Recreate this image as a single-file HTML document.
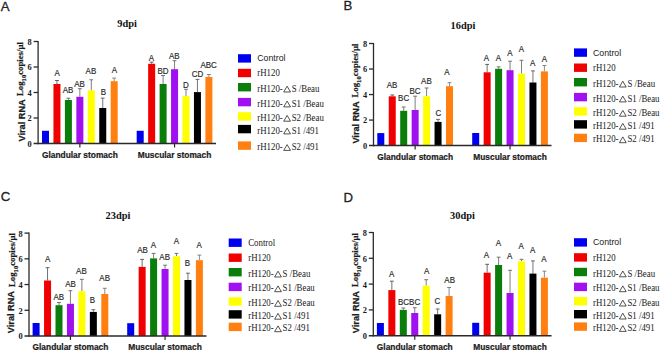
<!DOCTYPE html>
<html><head><meta charset="utf-8"><style>
html,body{margin:0;padding:0;background:#fff;width:665px;height:353px;overflow:hidden;}
svg{display:block;}

</style></head><body>
<svg width="665" height="353" viewBox="0 0 665 353">
<rect x="0" y="0" width="665" height="353" fill="#ffffff"/>
<rect x="42.00" y="130.80" width="7.00" height="12.70" fill="#0000f0"/>
<line x1="56.95" y1="80.50" x2="56.95" y2="84.00" stroke="#606060" stroke-width="0.9"/>
<line x1="55.05" y1="80.50" x2="58.85" y2="80.50" stroke="#606060" stroke-width="1.0"/>
<rect x="53.45" y="84.00" width="7.00" height="59.50" fill="#f00000"/>
<line x1="68.40" y1="98.20" x2="68.40" y2="100.00" stroke="#707070" stroke-width="0.9"/>
<line x1="66.50" y1="98.20" x2="70.30" y2="98.20" stroke="#707070" stroke-width="1.0"/>
<rect x="64.90" y="100.00" width="7.00" height="43.50" fill="#0a7d0a"/>
<line x1="79.85" y1="88.70" x2="79.85" y2="96.80" stroke="#707070" stroke-width="0.9"/>
<line x1="77.95" y1="88.70" x2="81.75" y2="88.70" stroke="#707070" stroke-width="1.0"/>
<rect x="76.35" y="96.80" width="7.00" height="46.70" fill="#a010f0"/>
<line x1="91.30" y1="79.80" x2="91.30" y2="90.40" stroke="#707070" stroke-width="0.9"/>
<line x1="89.40" y1="79.80" x2="93.20" y2="79.80" stroke="#707070" stroke-width="1.0"/>
<rect x="87.80" y="90.40" width="7.00" height="53.10" fill="#ffff00"/>
<line x1="102.75" y1="98.10" x2="102.75" y2="108.00" stroke="#666" stroke-width="0.9"/>
<line x1="100.85" y1="98.10" x2="104.65" y2="98.10" stroke="#666" stroke-width="1.0"/>
<rect x="99.25" y="108.00" width="7.00" height="35.50" fill="#000000"/>
<line x1="114.20" y1="78.10" x2="114.20" y2="81.20" stroke="#808080" stroke-width="0.9"/>
<line x1="112.30" y1="78.10" x2="116.10" y2="78.10" stroke="#808080" stroke-width="1.0"/>
<rect x="110.70" y="81.20" width="7.00" height="62.30" fill="#ff8010"/>
<rect x="136.70" y="130.80" width="7.00" height="12.70" fill="#0000f0"/>
<line x1="151.65" y1="62.10" x2="151.65" y2="63.80" stroke="#606060" stroke-width="0.9"/>
<line x1="149.75" y1="62.10" x2="153.55" y2="62.10" stroke="#606060" stroke-width="1.0"/>
<rect x="148.15" y="63.80" width="7.00" height="79.70" fill="#f00000"/>
<line x1="163.10" y1="75.50" x2="163.10" y2="84.00" stroke="#707070" stroke-width="0.9"/>
<line x1="161.20" y1="75.50" x2="165.00" y2="75.50" stroke="#707070" stroke-width="1.0"/>
<rect x="159.60" y="84.00" width="7.00" height="59.50" fill="#0a7d0a"/>
<line x1="174.55" y1="60.70" x2="174.55" y2="69.20" stroke="#707070" stroke-width="0.9"/>
<line x1="172.65" y1="60.70" x2="176.45" y2="60.70" stroke="#707070" stroke-width="1.0"/>
<rect x="171.05" y="69.20" width="7.00" height="74.30" fill="#a010f0"/>
<line x1="186.00" y1="89.30" x2="186.00" y2="96.10" stroke="#707070" stroke-width="0.9"/>
<line x1="184.10" y1="89.30" x2="187.90" y2="89.30" stroke="#707070" stroke-width="1.0"/>
<rect x="182.50" y="96.10" width="7.00" height="47.40" fill="#ffff00"/>
<line x1="197.45" y1="79.40" x2="197.45" y2="92.10" stroke="#666" stroke-width="0.9"/>
<line x1="195.55" y1="79.40" x2="199.35" y2="79.40" stroke="#666" stroke-width="1.0"/>
<rect x="193.95" y="92.10" width="7.00" height="51.40" fill="#000000"/>
<line x1="208.90" y1="74.50" x2="208.90" y2="77.00" stroke="#808080" stroke-width="0.9"/>
<line x1="207.00" y1="74.50" x2="210.80" y2="74.50" stroke="#808080" stroke-width="1.0"/>
<rect x="205.40" y="77.00" width="7.00" height="66.50" fill="#ff8010"/>
<line x1="38.10" y1="41.00" x2="38.10" y2="144.25" stroke="#2a2a2a" stroke-width="1.3"/>
<line x1="33.60" y1="143.50" x2="216.00" y2="143.50" stroke="#2a2a2a" stroke-width="1.5"/>
<text x="31.80" y="146.90" font-family='"Liberation Serif", serif' font-size="8.4" font-weight="bold" text-anchor="end" fill="#1a1a1a" >0</text>
<line x1="33.60" y1="118.00" x2="38.10" y2="118.00" stroke="#2a2a2a" stroke-width="1.3"/>
<text x="31.80" y="121.40" font-family='"Liberation Serif", serif' font-size="8.4" font-weight="bold" text-anchor="end" fill="#1a1a1a" >2</text>
<line x1="33.60" y1="92.50" x2="38.10" y2="92.50" stroke="#2a2a2a" stroke-width="1.3"/>
<text x="31.80" y="95.90" font-family='"Liberation Serif", serif' font-size="8.4" font-weight="bold" text-anchor="end" fill="#1a1a1a" >4</text>
<line x1="33.60" y1="67.00" x2="38.10" y2="67.00" stroke="#2a2a2a" stroke-width="1.3"/>
<text x="31.80" y="70.40" font-family='"Liberation Serif", serif' font-size="8.4" font-weight="bold" text-anchor="end" fill="#1a1a1a" >6</text>
<line x1="33.60" y1="41.50" x2="38.10" y2="41.50" stroke="#2a2a2a" stroke-width="1.3"/>
<text x="31.80" y="44.90" font-family='"Liberation Serif", serif' font-size="8.4" font-weight="bold" text-anchor="end" fill="#1a1a1a" >8</text>
<line x1="79.85" y1="143.50" x2="79.85" y2="147.50" stroke="#2a2a2a" stroke-width="1.2"/>
<line x1="174.55" y1="143.50" x2="174.55" y2="147.50" stroke="#2a2a2a" stroke-width="1.2"/>
<text x="79.85" y="157.80" font-family='"Liberation Sans", sans-serif' font-size="8.4" font-weight="bold" text-anchor="middle" fill="#1a1a1a" stroke="#1a1a1a" stroke-width="0.2">Glandular stomach</text>
<text x="174.55" y="157.80" font-family='"Liberation Sans", sans-serif' font-size="8.4" font-weight="bold" text-anchor="middle" fill="#1a1a1a" stroke="#1a1a1a" stroke-width="0.2">Muscular stomach</text>
<text transform="translate(57.20,76.42) scale(0.93,1)" x="0" y="0" font-family='"Liberation Sans", sans-serif' font-size="8.6" text-anchor="middle" fill="#2a2a2a" stroke="#2a2a2a" stroke-width="0.18">A</text>
<text transform="translate(68.00,92.72) scale(0.93,1)" x="0" y="0" font-family='"Liberation Sans", sans-serif' font-size="8.6" text-anchor="middle" fill="#2a2a2a" stroke="#2a2a2a" stroke-width="0.18">AB</text>
<text transform="translate(79.60,87.02) scale(0.93,1)" x="0" y="0" font-family='"Liberation Sans", sans-serif' font-size="8.6" text-anchor="middle" fill="#2a2a2a" stroke="#2a2a2a" stroke-width="0.18">AB</text>
<text transform="translate(90.90,73.52) scale(0.93,1)" x="0" y="0" font-family='"Liberation Sans", sans-serif' font-size="8.6" text-anchor="middle" fill="#2a2a2a" stroke="#2a2a2a" stroke-width="0.18">AB</text>
<text transform="translate(103.40,94.82) scale(0.93,1)" x="0" y="0" font-family='"Liberation Sans", sans-serif' font-size="8.6" text-anchor="middle" fill="#2a2a2a" stroke="#2a2a2a" stroke-width="0.18">B</text>
<text transform="translate(114.40,72.82) scale(0.93,1)" x="0" y="0" font-family='"Liberation Sans", sans-serif' font-size="8.6" text-anchor="middle" fill="#2a2a2a" stroke="#2a2a2a" stroke-width="0.18">A</text>
<text transform="translate(151.50,60.62) scale(0.93,1)" x="0" y="0" font-family='"Liberation Sans", sans-serif' font-size="8.6" text-anchor="middle" fill="#2a2a2a" stroke="#2a2a2a" stroke-width="0.18">A</text>
<text transform="translate(163.00,74.02) scale(0.93,1)" x="0" y="0" font-family='"Liberation Sans", sans-serif' font-size="8.6" text-anchor="middle" fill="#2a2a2a" stroke="#2a2a2a" stroke-width="0.18">BD</text>
<text transform="translate(174.30,58.92) scale(0.93,1)" x="0" y="0" font-family='"Liberation Sans", sans-serif' font-size="8.6" text-anchor="middle" fill="#2a2a2a" stroke="#2a2a2a" stroke-width="0.18">AB</text>
<text transform="translate(185.90,88.42) scale(0.93,1)" x="0" y="0" font-family='"Liberation Sans", sans-serif' font-size="8.6" text-anchor="middle" fill="#2a2a2a" stroke="#2a2a2a" stroke-width="0.18">D</text>
<text transform="translate(197.50,77.22) scale(0.93,1)" x="0" y="0" font-family='"Liberation Sans", sans-serif' font-size="8.6" text-anchor="middle" fill="#2a2a2a" stroke="#2a2a2a" stroke-width="0.18">CD</text>
<text transform="translate(208.60,67.82) scale(0.93,1)" x="0" y="0" font-family='"Liberation Sans", sans-serif' font-size="8.6" text-anchor="middle" fill="#2a2a2a" stroke="#2a2a2a" stroke-width="0.18">ABC</text>
<text x="117.30" y="27.00" font-family='"Liberation Serif", serif' font-size="10.4" font-weight="bold" text-anchor="start" fill="#111" >9dpi</text>
<text x="0.80" y="11.00" font-family='"Liberation Sans", sans-serif' font-size="13.2" font-weight="normal" text-anchor="start" fill="#222" stroke="#222" stroke-width="0.3">A</text>
<g transform="translate(25.40,141.50) rotate(-90)"><text x="0" y="0" fill="#1a1a1a" font-family='"Liberation Sans", sans-serif' font-weight="bold" font-size="9.2" stroke="#1a1a1a" stroke-width="0.25">Viral RNA</text></g>
<g transform="translate(23.30,96.00) rotate(-90) scale(0.95,1)">
<text x="0" y="0" fill="#1a1a1a" font-family='"Liberation Serif", serif' font-weight="bold" stroke="#1a1a1a" stroke-width="0.2"><tspan font-size="9.2">Log</tspan><tspan font-size="7" dy="3.1">10</tspan><tspan font-size="9.2" dy="-3.1">copies/μl</tspan></text>
</g>
<rect x="238.00" y="54.20" width="13.00" height="8.40" fill="#0000f0"/>
<text transform="translate(257.30,61.30) scale(0.95,1)" x="0" y="0" font-family='"Liberation Sans", sans-serif' font-size="9.2" fill="#1a1a1a">Control</text>
<rect x="238.00" y="68.80" width="13.00" height="8.40" fill="#f00000"/>
<text transform="translate(257.30,76.30) scale(0.92,1)" x="0" y="0" font-family='"Liberation Serif", serif' font-size="9.6" fill="#1a1a1a">rH120</text>
<rect x="238.00" y="83.00" width="13.00" height="8.40" fill="#0a7d0a"/>
<text transform="translate(257.30,91.70) scale(0.92,1)" x="0" y="0" font-family='"Liberation Serif", serif' font-size="9.6" fill="#1a1a1a">rH120-</text>
<path d="M283.71,92.00 L290.51,92.00 L287.11,86.20 Z" fill="none" stroke="#1a1a1a" stroke-width="0.75" stroke-linejoin="miter"/>
<text transform="translate(291.71,91.70) scale(0.92,1)" x="0" y="0" font-family='"Liberation Serif", serif' font-size="9.6" fill="#1a1a1a">S /Beau</text>
<rect x="238.00" y="97.90" width="13.00" height="8.40" fill="#a010f0"/>
<text transform="translate(257.30,106.60) scale(0.92,1)" x="0" y="0" font-family='"Liberation Serif", serif' font-size="9.6" fill="#1a1a1a">rH120-</text>
<path d="M283.71,106.90 L290.51,106.90 L287.11,101.10 Z" fill="none" stroke="#1a1a1a" stroke-width="0.75" stroke-linejoin="miter"/>
<text transform="translate(291.71,106.60) scale(0.92,1)" x="0" y="0" font-family='"Liberation Serif", serif' font-size="9.6" fill="#1a1a1a">S1 /Beau</text>
<rect x="238.00" y="112.20" width="13.00" height="8.40" fill="#ffff00"/>
<text transform="translate(257.30,120.90) scale(0.92,1)" x="0" y="0" font-family='"Liberation Serif", serif' font-size="9.6" fill="#1a1a1a">rH120-</text>
<path d="M283.71,121.20 L290.51,121.20 L287.11,115.40 Z" fill="none" stroke="#1a1a1a" stroke-width="0.75" stroke-linejoin="miter"/>
<text transform="translate(291.71,120.90) scale(0.92,1)" x="0" y="0" font-family='"Liberation Serif", serif' font-size="9.6" fill="#1a1a1a">S2 /Beau</text>
<rect x="238.00" y="124.90" width="13.00" height="8.40" fill="#000000"/>
<text transform="translate(257.30,133.60) scale(0.92,1)" x="0" y="0" font-family='"Liberation Serif", serif' font-size="9.6" fill="#1a1a1a">rH120-</text>
<path d="M283.71,133.90 L290.51,133.90 L287.11,128.10 Z" fill="none" stroke="#1a1a1a" stroke-width="0.75" stroke-linejoin="miter"/>
<text transform="translate(291.71,133.60) scale(0.92,1)" x="0" y="0" font-family='"Liberation Serif", serif' font-size="9.6" fill="#1a1a1a">S1 /491</text>
<rect x="238.00" y="141.40" width="13.00" height="8.40" fill="#ff8010"/>
<text transform="translate(257.30,150.10) scale(0.92,1)" x="0" y="0" font-family='"Liberation Serif", serif' font-size="9.6" fill="#1a1a1a">rH120-</text>
<path d="M283.71,150.40 L290.51,150.40 L287.11,144.60 Z" fill="none" stroke="#1a1a1a" stroke-width="0.75" stroke-linejoin="miter"/>
<text transform="translate(291.71,150.10) scale(0.92,1)" x="0" y="0" font-family='"Liberation Serif", serif' font-size="9.6" fill="#1a1a1a">S2 /491</text>
<rect x="377.30" y="133.10" width="7.00" height="12.50" fill="#0000f0"/>
<line x1="392.25" y1="95.00" x2="392.25" y2="96.30" stroke="#606060" stroke-width="0.9"/>
<line x1="390.35" y1="95.00" x2="394.15" y2="95.00" stroke="#606060" stroke-width="1.0"/>
<rect x="388.75" y="96.30" width="7.00" height="49.30" fill="#f00000"/>
<line x1="403.70" y1="107.00" x2="403.70" y2="110.80" stroke="#707070" stroke-width="0.9"/>
<line x1="401.80" y1="107.00" x2="405.60" y2="107.00" stroke="#707070" stroke-width="1.0"/>
<rect x="400.20" y="110.80" width="7.00" height="34.80" fill="#0a7d0a"/>
<line x1="415.15" y1="96.20" x2="415.15" y2="110.00" stroke="#707070" stroke-width="0.9"/>
<line x1="413.25" y1="96.20" x2="417.05" y2="96.20" stroke="#707070" stroke-width="1.0"/>
<rect x="411.65" y="110.00" width="7.00" height="35.60" fill="#a010f0"/>
<line x1="426.60" y1="88.00" x2="426.60" y2="96.20" stroke="#707070" stroke-width="0.9"/>
<line x1="424.70" y1="88.00" x2="428.50" y2="88.00" stroke="#707070" stroke-width="1.0"/>
<rect x="423.10" y="96.20" width="7.00" height="49.40" fill="#ffff00"/>
<line x1="438.05" y1="119.40" x2="438.05" y2="121.90" stroke="#666" stroke-width="0.9"/>
<line x1="436.15" y1="119.40" x2="439.95" y2="119.40" stroke="#666" stroke-width="1.0"/>
<rect x="434.55" y="121.90" width="7.00" height="23.70" fill="#000000"/>
<line x1="449.50" y1="82.70" x2="449.50" y2="86.20" stroke="#808080" stroke-width="0.9"/>
<line x1="447.60" y1="82.70" x2="451.40" y2="82.70" stroke="#808080" stroke-width="1.0"/>
<rect x="446.00" y="86.20" width="7.00" height="59.40" fill="#ff8010"/>
<rect x="472.20" y="133.00" width="7.00" height="12.60" fill="#0000f0"/>
<line x1="487.15" y1="64.40" x2="487.15" y2="72.30" stroke="#606060" stroke-width="0.9"/>
<line x1="485.25" y1="64.40" x2="489.05" y2="64.40" stroke="#606060" stroke-width="1.0"/>
<rect x="483.65" y="72.30" width="7.00" height="73.30" fill="#f00000"/>
<line x1="498.60" y1="66.90" x2="498.60" y2="68.80" stroke="#707070" stroke-width="0.9"/>
<line x1="496.70" y1="66.90" x2="500.50" y2="66.90" stroke="#707070" stroke-width="1.0"/>
<rect x="495.10" y="68.80" width="7.00" height="76.80" fill="#0a7d0a"/>
<line x1="510.05" y1="61.20" x2="510.05" y2="70.20" stroke="#707070" stroke-width="0.9"/>
<line x1="508.15" y1="61.20" x2="511.95" y2="61.20" stroke="#707070" stroke-width="1.0"/>
<rect x="506.55" y="70.20" width="7.00" height="75.40" fill="#a010f0"/>
<line x1="521.50" y1="60.30" x2="521.50" y2="73.60" stroke="#707070" stroke-width="0.9"/>
<line x1="519.60" y1="60.30" x2="523.40" y2="60.30" stroke="#707070" stroke-width="1.0"/>
<rect x="518.00" y="73.60" width="7.00" height="72.00" fill="#ffff00"/>
<line x1="532.95" y1="70.90" x2="532.95" y2="82.50" stroke="#666" stroke-width="0.9"/>
<line x1="531.05" y1="70.90" x2="534.85" y2="70.90" stroke="#666" stroke-width="1.0"/>
<rect x="529.45" y="82.50" width="7.00" height="63.10" fill="#000000"/>
<line x1="544.40" y1="65.50" x2="544.40" y2="71.40" stroke="#808080" stroke-width="0.9"/>
<line x1="542.50" y1="65.50" x2="546.30" y2="65.50" stroke="#808080" stroke-width="1.0"/>
<rect x="540.90" y="71.40" width="7.00" height="74.20" fill="#ff8010"/>
<line x1="373.50" y1="43.00" x2="373.50" y2="146.35" stroke="#2a2a2a" stroke-width="1.3"/>
<line x1="369.00" y1="145.60" x2="551.50" y2="145.60" stroke="#2a2a2a" stroke-width="1.5"/>
<text x="367.20" y="149.00" font-family='"Liberation Serif", serif' font-size="8.4" font-weight="bold" text-anchor="end" fill="#1a1a1a" >0</text>
<line x1="369.00" y1="120.07" x2="373.50" y2="120.07" stroke="#2a2a2a" stroke-width="1.3"/>
<text x="367.20" y="123.47" font-family='"Liberation Serif", serif' font-size="8.4" font-weight="bold" text-anchor="end" fill="#1a1a1a" >2</text>
<line x1="369.00" y1="94.55" x2="373.50" y2="94.55" stroke="#2a2a2a" stroke-width="1.3"/>
<text x="367.20" y="97.95" font-family='"Liberation Serif", serif' font-size="8.4" font-weight="bold" text-anchor="end" fill="#1a1a1a" >4</text>
<line x1="369.00" y1="69.03" x2="373.50" y2="69.03" stroke="#2a2a2a" stroke-width="1.3"/>
<text x="367.20" y="72.43" font-family='"Liberation Serif", serif' font-size="8.4" font-weight="bold" text-anchor="end" fill="#1a1a1a" >6</text>
<line x1="369.00" y1="43.50" x2="373.50" y2="43.50" stroke="#2a2a2a" stroke-width="1.3"/>
<text x="367.20" y="46.90" font-family='"Liberation Serif", serif' font-size="8.4" font-weight="bold" text-anchor="end" fill="#1a1a1a" >8</text>
<line x1="415.15" y1="145.60" x2="415.15" y2="149.60" stroke="#2a2a2a" stroke-width="1.2"/>
<line x1="510.05" y1="145.60" x2="510.05" y2="149.60" stroke="#2a2a2a" stroke-width="1.2"/>
<text x="415.15" y="159.90" font-family='"Liberation Sans", sans-serif' font-size="8.4" font-weight="bold" text-anchor="middle" fill="#1a1a1a" stroke="#1a1a1a" stroke-width="0.2">Glandular stomach</text>
<text x="510.05" y="159.90" font-family='"Liberation Sans", sans-serif' font-size="8.4" font-weight="bold" text-anchor="middle" fill="#1a1a1a" stroke="#1a1a1a" stroke-width="0.2">Muscular stomach</text>
<text transform="translate(392.00,88.42) scale(0.93,1)" x="0" y="0" font-family='"Liberation Sans", sans-serif' font-size="8.6" text-anchor="middle" fill="#2a2a2a" stroke="#2a2a2a" stroke-width="0.18">AB</text>
<text transform="translate(403.60,101.02) scale(0.93,1)" x="0" y="0" font-family='"Liberation Sans", sans-serif' font-size="8.6" text-anchor="middle" fill="#2a2a2a" stroke="#2a2a2a" stroke-width="0.18">BC</text>
<text transform="translate(415.00,93.52) scale(0.93,1)" x="0" y="0" font-family='"Liberation Sans", sans-serif' font-size="8.6" text-anchor="middle" fill="#2a2a2a" stroke="#2a2a2a" stroke-width="0.18">BC</text>
<text transform="translate(426.40,83.92) scale(0.93,1)" x="0" y="0" font-family='"Liberation Sans", sans-serif' font-size="8.6" text-anchor="middle" fill="#2a2a2a" stroke="#2a2a2a" stroke-width="0.18">AB</text>
<text transform="translate(438.30,115.72) scale(0.93,1)" x="0" y="0" font-family='"Liberation Sans", sans-serif' font-size="8.6" text-anchor="middle" fill="#2a2a2a" stroke="#2a2a2a" stroke-width="0.18">C</text>
<text transform="translate(446.80,75.02) scale(0.93,1)" x="0" y="0" font-family='"Liberation Sans", sans-serif' font-size="8.6" text-anchor="middle" fill="#2a2a2a" stroke="#2a2a2a" stroke-width="0.18">A</text>
<text transform="translate(486.50,61.42) scale(0.93,1)" x="0" y="0" font-family='"Liberation Sans", sans-serif' font-size="8.6" text-anchor="middle" fill="#2a2a2a" stroke="#2a2a2a" stroke-width="0.18">A</text>
<text transform="translate(498.40,60.72) scale(0.93,1)" x="0" y="0" font-family='"Liberation Sans", sans-serif' font-size="8.6" text-anchor="middle" fill="#2a2a2a" stroke="#2a2a2a" stroke-width="0.18">A</text>
<text transform="translate(509.80,56.42) scale(0.93,1)" x="0" y="0" font-family='"Liberation Sans", sans-serif' font-size="8.6" text-anchor="middle" fill="#2a2a2a" stroke="#2a2a2a" stroke-width="0.18">A</text>
<text transform="translate(521.40,52.22) scale(0.93,1)" x="0" y="0" font-family='"Liberation Sans", sans-serif' font-size="8.6" text-anchor="middle" fill="#2a2a2a" stroke="#2a2a2a" stroke-width="0.18">A</text>
<text transform="translate(532.70,66.32) scale(0.93,1)" x="0" y="0" font-family='"Liberation Sans", sans-serif' font-size="8.6" text-anchor="middle" fill="#2a2a2a" stroke="#2a2a2a" stroke-width="0.18">A</text>
<text transform="translate(544.30,61.72) scale(0.93,1)" x="0" y="0" font-family='"Liberation Sans", sans-serif' font-size="8.6" text-anchor="middle" fill="#2a2a2a" stroke="#2a2a2a" stroke-width="0.18">A</text>
<text x="450.60" y="29.40" font-family='"Liberation Serif", serif' font-size="10.4" font-weight="bold" text-anchor="start" fill="#111" >16dpi</text>
<text x="343.50" y="9.90" font-family='"Liberation Sans", sans-serif' font-size="13.2" font-weight="normal" text-anchor="start" fill="#222" stroke="#222" stroke-width="0.3">B</text>
<g transform="translate(359.20,143.60) rotate(-90)"><text x="0" y="0" fill="#1a1a1a" font-family='"Liberation Sans", sans-serif' font-weight="bold" font-size="9.2" stroke="#1a1a1a" stroke-width="0.25">Viral RNA</text></g>
<g transform="translate(358.20,97.50) rotate(-90) scale(0.95,1)">
<text x="0" y="0" fill="#1a1a1a" font-family='"Liberation Serif", serif' font-weight="bold" stroke="#1a1a1a" stroke-width="0.2"><tspan font-size="9.2">Log</tspan><tspan font-size="7" dy="3.1">10</tspan><tspan font-size="9.2" dy="-3.1">copies/μl</tspan></text>
</g>
<rect x="574.00" y="48.40" width="13.00" height="8.40" fill="#0000f0"/>
<text transform="translate(593.00,55.50) scale(0.95,1)" x="0" y="0" font-family='"Liberation Sans", sans-serif' font-size="9.2" fill="#1a1a1a">Control</text>
<rect x="574.00" y="63.50" width="13.00" height="8.40" fill="#f00000"/>
<text transform="translate(593.00,71.00) scale(0.92,1)" x="0" y="0" font-family='"Liberation Serif", serif' font-size="9.6" fill="#1a1a1a">rH120</text>
<rect x="574.00" y="78.00" width="13.00" height="8.40" fill="#0a7d0a"/>
<text transform="translate(593.00,86.70) scale(0.92,1)" x="0" y="0" font-family='"Liberation Serif", serif' font-size="9.6" fill="#1a1a1a">rH120-</text>
<path d="M619.41,87.00 L626.21,87.00 L622.81,81.20 Z" fill="none" stroke="#1a1a1a" stroke-width="0.75" stroke-linejoin="miter"/>
<text transform="translate(627.41,86.70) scale(0.92,1)" x="0" y="0" font-family='"Liberation Serif", serif' font-size="9.6" fill="#1a1a1a">S /Beau</text>
<rect x="574.00" y="92.90" width="13.00" height="8.40" fill="#a010f0"/>
<text transform="translate(593.00,101.60) scale(0.92,1)" x="0" y="0" font-family='"Liberation Serif", serif' font-size="9.6" fill="#1a1a1a">rH120-</text>
<path d="M619.41,101.90 L626.21,101.90 L622.81,96.10 Z" fill="none" stroke="#1a1a1a" stroke-width="0.75" stroke-linejoin="miter"/>
<text transform="translate(627.41,101.60) scale(0.92,1)" x="0" y="0" font-family='"Liberation Serif", serif' font-size="9.6" fill="#1a1a1a">S1 /Beau</text>
<rect x="574.00" y="107.20" width="13.00" height="8.40" fill="#ffff00"/>
<text transform="translate(593.00,115.90) scale(0.92,1)" x="0" y="0" font-family='"Liberation Serif", serif' font-size="9.6" fill="#1a1a1a">rH120-</text>
<path d="M619.41,116.20 L626.21,116.20 L622.81,110.40 Z" fill="none" stroke="#1a1a1a" stroke-width="0.75" stroke-linejoin="miter"/>
<text transform="translate(627.41,115.90) scale(0.92,1)" x="0" y="0" font-family='"Liberation Serif", serif' font-size="9.6" fill="#1a1a1a">S2 /Beau</text>
<rect x="574.00" y="120.20" width="13.00" height="8.40" fill="#000000"/>
<text transform="translate(593.00,128.90) scale(0.92,1)" x="0" y="0" font-family='"Liberation Serif", serif' font-size="9.6" fill="#1a1a1a">rH120-</text>
<path d="M619.41,129.20 L626.21,129.20 L622.81,123.40 Z" fill="none" stroke="#1a1a1a" stroke-width="0.75" stroke-linejoin="miter"/>
<text transform="translate(627.41,128.90) scale(0.92,1)" x="0" y="0" font-family='"Liberation Serif", serif' font-size="9.6" fill="#1a1a1a">S1 /491</text>
<rect x="574.00" y="133.70" width="13.00" height="8.40" fill="#ff8010"/>
<text transform="translate(593.00,142.40) scale(0.92,1)" x="0" y="0" font-family='"Liberation Serif", serif' font-size="9.6" fill="#1a1a1a">rH120-</text>
<path d="M619.41,142.70 L626.21,142.70 L622.81,136.90 Z" fill="none" stroke="#1a1a1a" stroke-width="0.75" stroke-linejoin="miter"/>
<text transform="translate(627.41,142.40) scale(0.92,1)" x="0" y="0" font-family='"Liberation Serif", serif' font-size="9.6" fill="#1a1a1a">S2 /491</text>
<rect x="32.60" y="323.00" width="7.00" height="13.00" fill="#0000f0"/>
<line x1="47.55" y1="267.70" x2="47.55" y2="280.50" stroke="#606060" stroke-width="0.9"/>
<line x1="45.65" y1="267.70" x2="49.45" y2="267.70" stroke="#606060" stroke-width="1.0"/>
<rect x="44.05" y="280.50" width="7.00" height="55.50" fill="#f00000"/>
<line x1="59.00" y1="302.50" x2="59.00" y2="305.20" stroke="#707070" stroke-width="0.9"/>
<line x1="57.10" y1="302.50" x2="60.90" y2="302.50" stroke="#707070" stroke-width="1.0"/>
<rect x="55.50" y="305.20" width="7.00" height="30.80" fill="#0a7d0a"/>
<line x1="70.45" y1="290.70" x2="70.45" y2="303.80" stroke="#707070" stroke-width="0.9"/>
<line x1="68.55" y1="290.70" x2="72.35" y2="290.70" stroke="#707070" stroke-width="1.0"/>
<rect x="66.95" y="303.80" width="7.00" height="32.20" fill="#a010f0"/>
<line x1="81.90" y1="279.30" x2="81.90" y2="291.10" stroke="#707070" stroke-width="0.9"/>
<line x1="80.00" y1="279.30" x2="83.80" y2="279.30" stroke="#707070" stroke-width="1.0"/>
<rect x="78.40" y="291.10" width="7.00" height="44.90" fill="#ffff00"/>
<line x1="93.35" y1="309.70" x2="93.35" y2="311.90" stroke="#666" stroke-width="0.9"/>
<line x1="91.45" y1="309.70" x2="95.25" y2="309.70" stroke="#666" stroke-width="1.0"/>
<rect x="89.85" y="311.90" width="7.00" height="24.10" fill="#000000"/>
<line x1="104.80" y1="288.30" x2="104.80" y2="294.00" stroke="#808080" stroke-width="0.9"/>
<line x1="102.90" y1="288.30" x2="106.70" y2="288.30" stroke="#808080" stroke-width="1.0"/>
<rect x="101.30" y="294.00" width="7.00" height="42.00" fill="#ff8010"/>
<rect x="127.20" y="323.20" width="7.00" height="12.80" fill="#0000f0"/>
<line x1="142.15" y1="259.40" x2="142.15" y2="266.90" stroke="#606060" stroke-width="0.9"/>
<line x1="140.25" y1="259.40" x2="144.05" y2="259.40" stroke="#606060" stroke-width="1.0"/>
<rect x="138.65" y="266.90" width="7.00" height="69.10" fill="#f00000"/>
<line x1="153.60" y1="253.40" x2="153.60" y2="258.40" stroke="#707070" stroke-width="0.9"/>
<line x1="151.70" y1="253.40" x2="155.50" y2="253.40" stroke="#707070" stroke-width="1.0"/>
<rect x="150.10" y="258.40" width="7.00" height="77.60" fill="#0a7d0a"/>
<line x1="165.05" y1="265.20" x2="165.05" y2="269.00" stroke="#707070" stroke-width="0.9"/>
<line x1="163.15" y1="265.20" x2="166.95" y2="265.20" stroke="#707070" stroke-width="1.0"/>
<rect x="161.55" y="269.00" width="7.00" height="67.00" fill="#a010f0"/>
<line x1="176.50" y1="253.40" x2="176.50" y2="256.20" stroke="#707070" stroke-width="0.9"/>
<line x1="174.60" y1="253.40" x2="178.40" y2="253.40" stroke="#707070" stroke-width="1.0"/>
<rect x="173.00" y="256.20" width="7.00" height="79.80" fill="#ffff00"/>
<line x1="187.95" y1="273.20" x2="187.95" y2="280.00" stroke="#666" stroke-width="0.9"/>
<line x1="186.05" y1="273.20" x2="189.85" y2="273.20" stroke="#666" stroke-width="1.0"/>
<rect x="184.45" y="280.00" width="7.00" height="56.00" fill="#000000"/>
<line x1="199.40" y1="255.10" x2="199.40" y2="260.20" stroke="#808080" stroke-width="0.9"/>
<line x1="197.50" y1="255.10" x2="201.30" y2="255.10" stroke="#808080" stroke-width="1.0"/>
<rect x="195.90" y="260.20" width="7.00" height="75.80" fill="#ff8010"/>
<line x1="29.00" y1="232.60" x2="29.00" y2="336.75" stroke="#2a2a2a" stroke-width="1.3"/>
<line x1="24.50" y1="336.00" x2="206.50" y2="336.00" stroke="#2a2a2a" stroke-width="1.5"/>
<text x="22.70" y="339.40" font-family='"Liberation Serif", serif' font-size="8.4" font-weight="bold" text-anchor="end" fill="#1a1a1a" >0</text>
<line x1="24.50" y1="310.27" x2="29.00" y2="310.27" stroke="#2a2a2a" stroke-width="1.3"/>
<text x="22.70" y="313.67" font-family='"Liberation Serif", serif' font-size="8.4" font-weight="bold" text-anchor="end" fill="#1a1a1a" >2</text>
<line x1="24.50" y1="284.55" x2="29.00" y2="284.55" stroke="#2a2a2a" stroke-width="1.3"/>
<text x="22.70" y="287.95" font-family='"Liberation Serif", serif' font-size="8.4" font-weight="bold" text-anchor="end" fill="#1a1a1a" >4</text>
<line x1="24.50" y1="258.82" x2="29.00" y2="258.82" stroke="#2a2a2a" stroke-width="1.3"/>
<text x="22.70" y="262.22" font-family='"Liberation Serif", serif' font-size="8.4" font-weight="bold" text-anchor="end" fill="#1a1a1a" >6</text>
<line x1="24.50" y1="233.10" x2="29.00" y2="233.10" stroke="#2a2a2a" stroke-width="1.3"/>
<text x="22.70" y="236.50" font-family='"Liberation Serif", serif' font-size="8.4" font-weight="bold" text-anchor="end" fill="#1a1a1a" >8</text>
<line x1="70.45" y1="336.00" x2="70.45" y2="340.00" stroke="#2a2a2a" stroke-width="1.2"/>
<line x1="165.05" y1="336.00" x2="165.05" y2="340.00" stroke="#2a2a2a" stroke-width="1.2"/>
<text x="70.45" y="350.30" font-family='"Liberation Sans", sans-serif' font-size="8.4" font-weight="bold" text-anchor="middle" fill="#1a1a1a" stroke="#1a1a1a" stroke-width="0.2">Glandular stomach</text>
<text x="165.05" y="350.30" font-family='"Liberation Sans", sans-serif' font-size="8.4" font-weight="bold" text-anchor="middle" fill="#1a1a1a" stroke="#1a1a1a" stroke-width="0.2">Muscular stomach</text>
<text transform="translate(47.70,261.72) scale(0.93,1)" x="0" y="0" font-family='"Liberation Sans", sans-serif' font-size="8.6" text-anchor="middle" fill="#2a2a2a" stroke="#2a2a2a" stroke-width="0.18">A</text>
<text transform="translate(58.80,299.62) scale(0.93,1)" x="0" y="0" font-family='"Liberation Sans", sans-serif' font-size="8.6" text-anchor="middle" fill="#2a2a2a" stroke="#2a2a2a" stroke-width="0.18">AB</text>
<text transform="translate(70.60,286.72) scale(0.93,1)" x="0" y="0" font-family='"Liberation Sans", sans-serif' font-size="8.6" text-anchor="middle" fill="#2a2a2a" stroke="#2a2a2a" stroke-width="0.18">AB</text>
<text transform="translate(81.40,274.22) scale(0.93,1)" x="0" y="0" font-family='"Liberation Sans", sans-serif' font-size="8.6" text-anchor="middle" fill="#2a2a2a" stroke="#2a2a2a" stroke-width="0.18">AB</text>
<text transform="translate(92.50,302.52) scale(0.93,1)" x="0" y="0" font-family='"Liberation Sans", sans-serif' font-size="8.6" text-anchor="middle" fill="#2a2a2a" stroke="#2a2a2a" stroke-width="0.18">B</text>
<text transform="translate(104.70,280.62) scale(0.93,1)" x="0" y="0" font-family='"Liberation Sans", sans-serif' font-size="8.6" text-anchor="middle" fill="#2a2a2a" stroke="#2a2a2a" stroke-width="0.18">AB</text>
<text transform="translate(142.50,252.82) scale(0.93,1)" x="0" y="0" font-family='"Liberation Sans", sans-serif' font-size="8.6" text-anchor="middle" fill="#2a2a2a" stroke="#2a2a2a" stroke-width="0.18">AB</text>
<text transform="translate(153.40,247.62) scale(0.93,1)" x="0" y="0" font-family='"Liberation Sans", sans-serif' font-size="8.6" text-anchor="middle" fill="#2a2a2a" stroke="#2a2a2a" stroke-width="0.18">A</text>
<text transform="translate(164.70,259.92) scale(0.93,1)" x="0" y="0" font-family='"Liberation Sans", sans-serif' font-size="8.6" text-anchor="middle" fill="#2a2a2a" stroke="#2a2a2a" stroke-width="0.18">AB</text>
<text transform="translate(176.50,243.92) scale(0.93,1)" x="0" y="0" font-family='"Liberation Sans", sans-serif' font-size="8.6" text-anchor="middle" fill="#2a2a2a" stroke="#2a2a2a" stroke-width="0.18">A</text>
<text transform="translate(187.40,266.02) scale(0.93,1)" x="0" y="0" font-family='"Liberation Sans", sans-serif' font-size="8.6" text-anchor="middle" fill="#2a2a2a" stroke="#2a2a2a" stroke-width="0.18">B</text>
<text transform="translate(199.10,247.62) scale(0.93,1)" x="0" y="0" font-family='"Liberation Sans", sans-serif' font-size="8.6" text-anchor="middle" fill="#2a2a2a" stroke="#2a2a2a" stroke-width="0.18">A</text>
<text x="105.50" y="219.10" font-family='"Liberation Serif", serif' font-size="10.4" font-weight="bold" text-anchor="start" fill="#111" >23dpi</text>
<text x="0.80" y="201.20" font-family='"Liberation Sans", sans-serif' font-size="13.2" font-weight="normal" text-anchor="start" fill="#222" stroke="#222" stroke-width="0.3">C</text>
<g transform="translate(14.40,333.20) rotate(-90)"><text x="0" y="0" fill="#1a1a1a" font-family='"Liberation Sans", sans-serif' font-weight="bold" font-size="9.2" stroke="#1a1a1a" stroke-width="0.25">Viral RNA</text></g>
<g transform="translate(14.60,287.00) rotate(-90) scale(0.95,1)">
<text x="0" y="0" fill="#1a1a1a" font-family='"Liberation Serif", serif' font-weight="bold" stroke="#1a1a1a" stroke-width="0.2"><tspan font-size="9.2">Log</tspan><tspan font-size="7" dy="3.1">10</tspan><tspan font-size="9.2" dy="-3.1">copies/μl</tspan></text>
</g>
<rect x="228.70" y="238.50" width="13.00" height="8.40" fill="#0000f0"/>
<text transform="translate(248.20,245.60) scale(0.92,1)" x="0" y="0" font-family='"Liberation Serif", serif' font-size="9.6" fill="#1a1a1a">Control</text>
<rect x="228.70" y="253.50" width="13.00" height="8.40" fill="#f00000"/>
<text transform="translate(248.20,261.00) scale(0.92,1)" x="0" y="0" font-family='"Liberation Serif", serif' font-size="9.6" fill="#1a1a1a">rH120</text>
<rect x="228.70" y="268.00" width="13.00" height="8.40" fill="#0a7d0a"/>
<text transform="translate(248.20,276.70) scale(0.92,1)" x="0" y="0" font-family='"Liberation Serif", serif' font-size="9.6" fill="#1a1a1a">rH120-</text>
<path d="M274.61,277.00 L281.41,277.00 L278.01,271.20 Z" fill="none" stroke="#1a1a1a" stroke-width="0.75" stroke-linejoin="miter"/>
<text transform="translate(282.61,276.70) scale(0.92,1)" x="0" y="0" font-family='"Liberation Serif", serif' font-size="9.6" fill="#1a1a1a">S /Beau</text>
<rect x="228.70" y="282.70" width="13.00" height="8.40" fill="#a010f0"/>
<text transform="translate(248.20,291.40) scale(0.92,1)" x="0" y="0" font-family='"Liberation Serif", serif' font-size="9.6" fill="#1a1a1a">rH120-</text>
<path d="M274.61,291.70 L281.41,291.70 L278.01,285.90 Z" fill="none" stroke="#1a1a1a" stroke-width="0.75" stroke-linejoin="miter"/>
<text transform="translate(282.61,291.40) scale(0.92,1)" x="0" y="0" font-family='"Liberation Serif", serif' font-size="9.6" fill="#1a1a1a">S1 /Beau</text>
<rect x="228.70" y="297.30" width="13.00" height="8.40" fill="#ffff00"/>
<text transform="translate(248.20,306.00) scale(0.92,1)" x="0" y="0" font-family='"Liberation Serif", serif' font-size="9.6" fill="#1a1a1a">rH120-</text>
<path d="M274.61,306.30 L281.41,306.30 L278.01,300.50 Z" fill="none" stroke="#1a1a1a" stroke-width="0.75" stroke-linejoin="miter"/>
<text transform="translate(282.61,306.00) scale(0.92,1)" x="0" y="0" font-family='"Liberation Serif", serif' font-size="9.6" fill="#1a1a1a">S2 /Beau</text>
<rect x="228.70" y="310.20" width="13.00" height="8.40" fill="#000000"/>
<text transform="translate(248.20,318.90) scale(0.92,1)" x="0" y="0" font-family='"Liberation Serif", serif' font-size="9.6" fill="#1a1a1a">rH120-</text>
<path d="M274.61,319.20 L281.41,319.20 L278.01,313.40 Z" fill="none" stroke="#1a1a1a" stroke-width="0.75" stroke-linejoin="miter"/>
<text transform="translate(282.61,318.90) scale(0.92,1)" x="0" y="0" font-family='"Liberation Serif", serif' font-size="9.6" fill="#1a1a1a">S1 /491</text>
<rect x="228.70" y="322.70" width="13.00" height="8.40" fill="#ff8010"/>
<text transform="translate(248.20,331.40) scale(0.92,1)" x="0" y="0" font-family='"Liberation Serif", serif' font-size="9.6" fill="#1a1a1a">rH120-</text>
<path d="M274.61,331.70 L281.41,331.70 L278.01,325.90 Z" fill="none" stroke="#1a1a1a" stroke-width="0.75" stroke-linejoin="miter"/>
<text transform="translate(282.61,331.40) scale(0.92,1)" x="0" y="0" font-family='"Liberation Serif", serif' font-size="9.6" fill="#1a1a1a">S2 /491</text>
<rect x="376.90" y="323.00" width="7.00" height="12.70" fill="#0000f0"/>
<line x1="391.85" y1="281.20" x2="391.85" y2="290.10" stroke="#606060" stroke-width="0.9"/>
<line x1="389.95" y1="281.20" x2="393.75" y2="281.20" stroke="#606060" stroke-width="1.0"/>
<rect x="388.35" y="290.10" width="7.00" height="45.60" fill="#f00000"/>
<line x1="403.30" y1="308.00" x2="403.30" y2="309.90" stroke="#707070" stroke-width="0.9"/>
<line x1="401.40" y1="308.00" x2="405.20" y2="308.00" stroke="#707070" stroke-width="1.0"/>
<rect x="399.80" y="309.90" width="7.00" height="25.80" fill="#0a7d0a"/>
<line x1="414.75" y1="307.70" x2="414.75" y2="313.00" stroke="#707070" stroke-width="0.9"/>
<line x1="412.85" y1="307.70" x2="416.65" y2="307.70" stroke="#707070" stroke-width="1.0"/>
<rect x="411.25" y="313.00" width="7.00" height="22.70" fill="#a010f0"/>
<line x1="426.20" y1="279.70" x2="426.20" y2="285.70" stroke="#707070" stroke-width="0.9"/>
<line x1="424.30" y1="279.70" x2="428.10" y2="279.70" stroke="#707070" stroke-width="1.0"/>
<rect x="422.70" y="285.70" width="7.00" height="50.00" fill="#ffff00"/>
<line x1="437.65" y1="309.00" x2="437.65" y2="314.30" stroke="#666" stroke-width="0.9"/>
<line x1="435.75" y1="309.00" x2="439.55" y2="309.00" stroke="#666" stroke-width="1.0"/>
<rect x="434.15" y="314.30" width="7.00" height="21.40" fill="#000000"/>
<line x1="449.10" y1="287.50" x2="449.10" y2="296.00" stroke="#808080" stroke-width="0.9"/>
<line x1="447.20" y1="287.50" x2="451.00" y2="287.50" stroke="#808080" stroke-width="1.0"/>
<rect x="445.60" y="296.00" width="7.00" height="39.70" fill="#ff8010"/>
<rect x="472.20" y="322.80" width="7.00" height="12.90" fill="#0000f0"/>
<line x1="487.15" y1="264.30" x2="487.15" y2="272.70" stroke="#606060" stroke-width="0.9"/>
<line x1="485.25" y1="264.30" x2="489.05" y2="264.30" stroke="#606060" stroke-width="1.0"/>
<rect x="483.65" y="272.70" width="7.00" height="63.00" fill="#f00000"/>
<line x1="498.60" y1="257.20" x2="498.60" y2="265.00" stroke="#707070" stroke-width="0.9"/>
<line x1="496.70" y1="257.20" x2="500.50" y2="257.20" stroke="#707070" stroke-width="1.0"/>
<rect x="495.10" y="265.00" width="7.00" height="70.70" fill="#0a7d0a"/>
<line x1="510.05" y1="270.30" x2="510.05" y2="293.00" stroke="#707070" stroke-width="0.9"/>
<line x1="508.15" y1="270.30" x2="511.95" y2="270.30" stroke="#707070" stroke-width="1.0"/>
<rect x="506.55" y="293.00" width="7.00" height="42.70" fill="#a010f0"/>
<line x1="521.50" y1="259.30" x2="521.50" y2="261.20" stroke="#707070" stroke-width="0.9"/>
<line x1="519.60" y1="259.30" x2="523.40" y2="259.30" stroke="#707070" stroke-width="1.0"/>
<rect x="518.00" y="261.20" width="7.00" height="74.50" fill="#ffff00"/>
<line x1="532.95" y1="260.90" x2="532.95" y2="273.60" stroke="#666" stroke-width="0.9"/>
<line x1="531.05" y1="260.90" x2="534.85" y2="260.90" stroke="#666" stroke-width="1.0"/>
<rect x="529.45" y="273.60" width="7.00" height="62.10" fill="#000000"/>
<line x1="544.40" y1="271.20" x2="544.40" y2="277.70" stroke="#808080" stroke-width="0.9"/>
<line x1="542.50" y1="271.20" x2="546.30" y2="271.20" stroke="#808080" stroke-width="1.0"/>
<rect x="540.90" y="277.70" width="7.00" height="58.00" fill="#ff8010"/>
<line x1="373.30" y1="232.00" x2="373.30" y2="336.45" stroke="#2a2a2a" stroke-width="1.3"/>
<line x1="368.80" y1="335.70" x2="551.50" y2="335.70" stroke="#2a2a2a" stroke-width="1.5"/>
<text x="367.00" y="339.10" font-family='"Liberation Serif", serif' font-size="8.4" font-weight="bold" text-anchor="end" fill="#1a1a1a" >0</text>
<line x1="368.80" y1="309.90" x2="373.30" y2="309.90" stroke="#2a2a2a" stroke-width="1.3"/>
<text x="367.00" y="313.30" font-family='"Liberation Serif", serif' font-size="8.4" font-weight="bold" text-anchor="end" fill="#1a1a1a" >2</text>
<line x1="368.80" y1="284.10" x2="373.30" y2="284.10" stroke="#2a2a2a" stroke-width="1.3"/>
<text x="367.00" y="287.50" font-family='"Liberation Serif", serif' font-size="8.4" font-weight="bold" text-anchor="end" fill="#1a1a1a" >4</text>
<line x1="368.80" y1="258.30" x2="373.30" y2="258.30" stroke="#2a2a2a" stroke-width="1.3"/>
<text x="367.00" y="261.70" font-family='"Liberation Serif", serif' font-size="8.4" font-weight="bold" text-anchor="end" fill="#1a1a1a" >6</text>
<line x1="368.80" y1="232.50" x2="373.30" y2="232.50" stroke="#2a2a2a" stroke-width="1.3"/>
<text x="367.00" y="235.90" font-family='"Liberation Serif", serif' font-size="8.4" font-weight="bold" text-anchor="end" fill="#1a1a1a" >8</text>
<line x1="414.75" y1="335.70" x2="414.75" y2="339.70" stroke="#2a2a2a" stroke-width="1.2"/>
<line x1="510.05" y1="335.70" x2="510.05" y2="339.70" stroke="#2a2a2a" stroke-width="1.2"/>
<text x="414.75" y="350.00" font-family='"Liberation Sans", sans-serif' font-size="8.4" font-weight="bold" text-anchor="middle" fill="#1a1a1a" stroke="#1a1a1a" stroke-width="0.2">Glandular stomach</text>
<text x="510.05" y="350.00" font-family='"Liberation Sans", sans-serif' font-size="8.4" font-weight="bold" text-anchor="middle" fill="#1a1a1a" stroke="#1a1a1a" stroke-width="0.2">Muscular stomach</text>
<text transform="translate(391.70,276.82) scale(0.93,1)" x="0" y="0" font-family='"Liberation Sans", sans-serif' font-size="8.6" text-anchor="middle" fill="#2a2a2a" stroke="#2a2a2a" stroke-width="0.18">A</text>
<text transform="translate(409.10,305.02) scale(0.93,1)" x="0" y="0" font-family='"Liberation Sans", sans-serif' font-size="8.6" text-anchor="middle" fill="#2a2a2a" stroke="#2a2a2a" stroke-width="0.18">BCBC</text>
<text transform="translate(426.70,273.52) scale(0.93,1)" x="0" y="0" font-family='"Liberation Sans", sans-serif' font-size="8.6" text-anchor="middle" fill="#2a2a2a" stroke="#2a2a2a" stroke-width="0.18">A</text>
<text transform="translate(437.50,303.52) scale(0.93,1)" x="0" y="0" font-family='"Liberation Sans", sans-serif' font-size="8.6" text-anchor="middle" fill="#2a2a2a" stroke="#2a2a2a" stroke-width="0.18">C</text>
<text transform="translate(449.70,283.02) scale(0.93,1)" x="0" y="0" font-family='"Liberation Sans", sans-serif' font-size="8.6" text-anchor="middle" fill="#2a2a2a" stroke="#2a2a2a" stroke-width="0.18">AB</text>
<text transform="translate(486.50,258.42) scale(0.93,1)" x="0" y="0" font-family='"Liberation Sans", sans-serif' font-size="8.6" text-anchor="middle" fill="#2a2a2a" stroke="#2a2a2a" stroke-width="0.18">A</text>
<text transform="translate(498.30,245.72) scale(0.93,1)" x="0" y="0" font-family='"Liberation Sans", sans-serif' font-size="8.6" text-anchor="middle" fill="#2a2a2a" stroke="#2a2a2a" stroke-width="0.18">A</text>
<text transform="translate(509.60,258.82) scale(0.93,1)" x="0" y="0" font-family='"Liberation Sans", sans-serif' font-size="8.6" text-anchor="middle" fill="#2a2a2a" stroke="#2a2a2a" stroke-width="0.18">A</text>
<text transform="translate(521.20,249.22) scale(0.93,1)" x="0" y="0" font-family='"Liberation Sans", sans-serif' font-size="8.6" text-anchor="middle" fill="#2a2a2a" stroke="#2a2a2a" stroke-width="0.18">A</text>
<text transform="translate(532.60,253.22) scale(0.93,1)" x="0" y="0" font-family='"Liberation Sans", sans-serif' font-size="8.6" text-anchor="middle" fill="#2a2a2a" stroke="#2a2a2a" stroke-width="0.18">A</text>
<text transform="translate(543.90,262.22) scale(0.93,1)" x="0" y="0" font-family='"Liberation Sans", sans-serif' font-size="8.6" text-anchor="middle" fill="#2a2a2a" stroke="#2a2a2a" stroke-width="0.18">A</text>
<text x="450.00" y="219.10" font-family='"Liberation Serif", serif' font-size="10.4" font-weight="bold" text-anchor="start" fill="#111" >30dpi</text>
<text x="343.50" y="201.80" font-family='"Liberation Sans", sans-serif' font-size="13.2" font-weight="normal" text-anchor="start" fill="#222" stroke="#222" stroke-width="0.3">D</text>
<g transform="translate(359.40,333.20) rotate(-90)"><text x="0" y="0" fill="#1a1a1a" font-family='"Liberation Sans", sans-serif' font-weight="bold" font-size="9.2" stroke="#1a1a1a" stroke-width="0.25">Viral RNA</text></g>
<g transform="translate(358.20,287.00) rotate(-90) scale(0.95,1)">
<text x="0" y="0" fill="#1a1a1a" font-family='"Liberation Serif", serif' font-weight="bold" stroke="#1a1a1a" stroke-width="0.2"><tspan font-size="9.2">Log</tspan><tspan font-size="7" dy="3.1">10</tspan><tspan font-size="9.2" dy="-3.1">copies/μl</tspan></text>
</g>
<rect x="574.00" y="238.20" width="13.00" height="8.40" fill="#0000f0"/>
<text transform="translate(593.00,245.30) scale(0.95,1)" x="0" y="0" font-family='"Liberation Sans", sans-serif' font-size="9.2" fill="#1a1a1a">Control</text>
<rect x="574.00" y="253.20" width="13.00" height="8.40" fill="#f00000"/>
<text transform="translate(593.00,260.70) scale(0.92,1)" x="0" y="0" font-family='"Liberation Serif", serif' font-size="9.6" fill="#1a1a1a">rH120</text>
<rect x="574.00" y="267.80" width="13.00" height="8.40" fill="#0a7d0a"/>
<text transform="translate(593.00,276.50) scale(0.92,1)" x="0" y="0" font-family='"Liberation Serif", serif' font-size="9.6" fill="#1a1a1a">rH120-</text>
<path d="M619.41,276.80 L626.21,276.80 L622.81,271.00 Z" fill="none" stroke="#1a1a1a" stroke-width="0.75" stroke-linejoin="miter"/>
<text transform="translate(627.41,276.50) scale(0.92,1)" x="0" y="0" font-family='"Liberation Serif", serif' font-size="9.6" fill="#1a1a1a">S /Beau</text>
<rect x="574.00" y="282.70" width="13.00" height="8.40" fill="#a010f0"/>
<text transform="translate(593.00,291.40) scale(0.92,1)" x="0" y="0" font-family='"Liberation Serif", serif' font-size="9.6" fill="#1a1a1a">rH120-</text>
<path d="M619.41,291.70 L626.21,291.70 L622.81,285.90 Z" fill="none" stroke="#1a1a1a" stroke-width="0.75" stroke-linejoin="miter"/>
<text transform="translate(627.41,291.40) scale(0.92,1)" x="0" y="0" font-family='"Liberation Serif", serif' font-size="9.6" fill="#1a1a1a">S1 /Beau</text>
<rect x="574.00" y="297.00" width="13.00" height="8.40" fill="#ffff00"/>
<text transform="translate(593.00,305.70) scale(0.92,1)" x="0" y="0" font-family='"Liberation Serif", serif' font-size="9.6" fill="#1a1a1a">rH120-</text>
<path d="M619.41,306.00 L626.21,306.00 L622.81,300.20 Z" fill="none" stroke="#1a1a1a" stroke-width="0.75" stroke-linejoin="miter"/>
<text transform="translate(627.41,305.70) scale(0.92,1)" x="0" y="0" font-family='"Liberation Serif", serif' font-size="9.6" fill="#1a1a1a">S2 /Beau</text>
<rect x="574.00" y="310.00" width="13.00" height="8.40" fill="#000000"/>
<text transform="translate(593.00,318.70) scale(0.92,1)" x="0" y="0" font-family='"Liberation Serif", serif' font-size="9.6" fill="#1a1a1a">rH120-</text>
<path d="M619.41,319.00 L626.21,319.00 L622.81,313.20 Z" fill="none" stroke="#1a1a1a" stroke-width="0.75" stroke-linejoin="miter"/>
<text transform="translate(627.41,318.70) scale(0.92,1)" x="0" y="0" font-family='"Liberation Serif", serif' font-size="9.6" fill="#1a1a1a">S1 /491</text>
<rect x="574.00" y="322.40" width="13.00" height="8.40" fill="#ff8010"/>
<text transform="translate(593.00,331.10) scale(0.92,1)" x="0" y="0" font-family='"Liberation Serif", serif' font-size="9.6" fill="#1a1a1a">rH120-</text>
<path d="M619.41,331.40 L626.21,331.40 L622.81,325.60 Z" fill="none" stroke="#1a1a1a" stroke-width="0.75" stroke-linejoin="miter"/>
<text transform="translate(627.41,331.10) scale(0.92,1)" x="0" y="0" font-family='"Liberation Serif", serif' font-size="9.6" fill="#1a1a1a">S2 /491</text>
</svg>
</body></html>
